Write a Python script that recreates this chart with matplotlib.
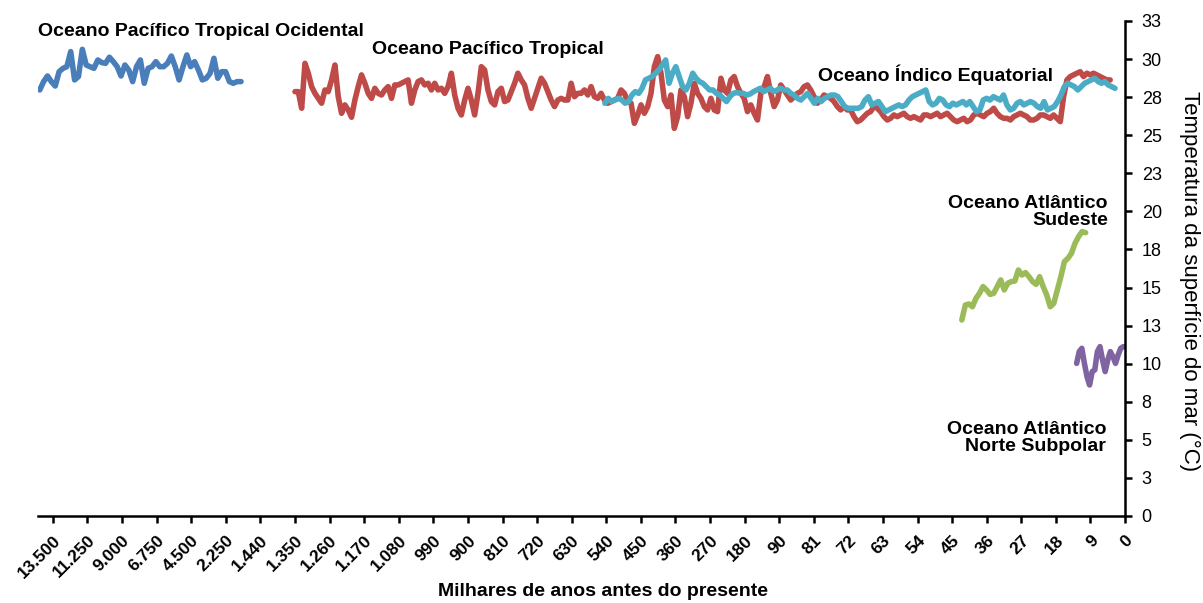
import numpy as np
import matplotlib
matplotlib.use("Agg")
import matplotlib.pyplot as plt

plt.rcParams["font.family"] = ["Liberation Sans", "DejaVu Sans"]

# Category axis: one tick per labelled age (thousands of years before present)
age_labels = ["13.500", "11.250", "9.000", "6.750", "4.500", "2.250",
              "1.440", "1.350", "1.260", "1.170", "1.080", "990", "900",
              "810", "720", "630", "540", "450", "360", "270", "180", "90",
              "81", "72", "63", "54", "45", "36", "27", "18", "9", "0"]

# Sea-surface temperature records (°C), evenly sampled along each record's span
pacific_west = [27.97, 28.52, 28.89, 28.52, 28.23, 29.17, 29.39, 29.50, 30.49, 28.63,
                28.85, 30.64, 29.61, 29.50, 29.39, 29.94, 29.77, 29.72, 30.12, 29.83,
                29.50, 28.89, 29.61, 29.28, 28.52, 29.50, 29.94, 28.41, 29.39, 29.50,
                29.83, 29.50, 29.50, 29.72, 30.20, 29.50, 28.63, 29.50, 30.27, 29.50,
                29.83, 29.28, 28.63, 28.74, 29.06, 30.05, 28.74, 29.17, 29.17, 28.52,
                28.41, 28.52, 28.52]

pacific_trop = [27.86, 27.86, 26.77, 29.72, 29.07, 28.19, 27.75, 27.42, 27.10, 27.97,
                27.86, 28.63, 29.61, 27.53, 26.44, 26.99, 26.66, 26.18, 27.31, 28.19,
                28.96, 28.41, 27.75, 27.42, 28.08, 27.75, 27.64, 27.97, 28.19, 27.42,
                28.30, 28.30, 28.41, 28.52, 28.63, 27.10, 27.97, 28.52, 28.63, 28.30,
                28.41, 27.97, 28.41, 27.97, 28.08, 27.75, 28.19, 29.07, 27.64, 26.77,
                26.33, 27.31, 28.08, 27.31, 26.33, 27.75, 29.50, 29.28, 27.97, 27.21,
                26.99, 27.86, 28.08, 27.21, 27.31, 27.86, 28.41, 29.07, 28.63, 28.30,
                27.42, 26.77, 27.42, 28.08, 28.74, 28.41, 27.86, 27.31, 26.88, 27.31,
                27.42, 27.31, 27.31, 28.41, 27.53, 27.75,
                27.75, 27.97, 27.64, 28.19, 27.53, 27.42, 27.75, 27.31, 27.10, 27.21,
                27.31, 27.42, 27.97, 27.75, 27.21, 27.10, 25.78, 26.33, 26.99, 26.44,
                26.88, 27.75, 29.50, 30.16, 29.07, 27.31, 26.88, 27.64, 25.45, 26.22,
                27.97, 27.53, 26.22, 27.10, 28.41, 27.75, 27.42, 26.88, 26.66, 27.42,
                26.66, 26.55, 28.74, 27.97, 27.75, 28.63, 28.85, 28.19, 27.75, 27.42,
                26.55, 26.99, 26.44, 26.00, 27.75, 28.19, 28.85, 27.75, 26.88, 27.31,
                28.30, 27.97, 27.64, 27.31, 27.53, 27.75, 27.86, 28.19, 28.30, 27.97,
                27.53, 27.10, 27.31, 27.64, 27.53, 27.42, 27.21, 26.88, 26.66, 26.88,
                26.66, 26.66, 26.22, 25.89, 26.00, 26.22, 26.44, 26.55, 26.88, 26.77,
                26.55, 26.22, 26.00, 26.11, 26.33, 26.22, 26.33, 26.44, 26.22, 26.11,
                26.22, 26.11, 26.00, 26.33, 26.33, 26.22, 26.33, 26.44, 26.22, 26.33,
                26.44, 26.22, 26.00, 25.89, 26.00, 26.11, 25.89, 26.00, 26.33, 26.44,
                26.33, 26.22, 26.44, 26.55, 26.77, 26.44, 26.22, 26.11, 26.11, 26.00,
                26.22, 26.33, 26.44, 26.33, 26.22, 26.00, 26.00, 26.11, 26.33, 26.33,
                26.22, 26.11, 26.33, 26.11, 25.89, 27.53, 28.63, 28.85, 28.96, 29.07,
                29.17, 28.85, 29.07, 28.96, 29.07, 28.96, 28.85, 28.74, 28.63, 28.63]

indian_eq = [27.10, 27.42, 27.21, 27.31, 27.42, 27.31, 27.10, 27.21, 27.64, 27.86,
             27.75, 28.08, 28.63, 28.74, 28.85, 29.07, 29.28, 29.61, 29.94, 28.41,
             29.07, 29.50, 28.85, 28.19, 27.97, 28.41, 29.07, 28.74, 28.52, 28.41,
             28.19, 27.97, 27.97, 27.75, 27.64, 27.42, 27.21, 27.53, 27.75, 27.80,
             27.75, 27.75, 27.64, 27.71, 27.86, 27.97, 28.08, 27.86, 27.97, 28.08,
             27.86, 27.97, 28.08, 27.97, 27.97, 27.75, 27.64, 27.42, 27.31, 27.53,
             27.75, 27.42, 27.10, 27.42, 27.21, 27.42, 27.53, 27.64, 27.64, 27.53,
             27.21, 26.88, 26.77, 26.77, 26.77, 26.77, 26.88, 27.31, 27.53, 26.99,
             27.10, 27.21, 26.88, 26.55, 26.66, 26.77, 26.88, 26.99, 26.88, 26.99,
             27.31, 27.53, 27.64, 27.75, 27.86, 27.97, 27.21, 26.99, 27.10, 27.42,
             27.31, 26.99, 26.88, 27.10, 26.99, 27.10, 27.21, 26.99, 27.21, 26.88,
             26.55, 26.66, 27.31, 27.42, 27.31, 27.53, 27.42, 27.31, 27.64, 26.99,
             26.66, 26.77, 27.10, 27.21, 26.99, 27.10, 27.21, 27.10, 26.88, 26.77,
             27.21, 26.66, 26.77, 26.88, 27.21, 27.64, 28.19, 28.41, 28.30, 28.19,
             27.97, 28.19, 28.41, 28.52, 28.63, 28.74, 28.52, 28.41, 28.52,
             28.30, 28.19, 28.08]

atlantic_se = [12.87, 13.85, 13.92, 13.74, 14.29, 14.62, 15.06, 14.84, 14.55, 14.62,
               15.06, 15.50, 14.84, 15.28, 15.39, 15.43, 16.15, 15.82, 15.98, 15.71,
               15.39, 15.21, 15.71, 15.06, 14.51, 13.74, 13.96, 14.84, 15.71, 16.70,
               16.92, 17.25, 17.90, 18.34, 18.67, 18.60]

atlantic_n = [10.02, 10.79, 11.01, 10.02, 9.15, 8.60, 9.48, 9.59, 10.79, 11.12,
              10.24, 9.48, 10.24, 10.79, 10.46, 10.02, 10.57, 11.01, 11.12]

# First and last position of each record on the category axis (tick index units)
spans = {
    "pacific_west": (-0.38, 5.44),
    "pacific_trop": (7.0, 30.57),
    "indian_eq": (15.96, 30.71),
    "atlantic_se": (26.28, 29.86),
    "atlantic_n": (29.60, 30.95),
}

colors = {
    "pacific_west": "#4A7EBB",
    "pacific_trop": "#BE4B48",
    "indian_eq": "#4BACC6",
    "atlantic_se": "#9BBB59",
    "atlantic_n": "#8064A2",
}

series = [("pacific_west", pacific_west), ("pacific_trop", pacific_trop),
          ("indian_eq", indian_eq), ("atlantic_se", atlantic_se),
          ("atlantic_n", atlantic_n)]

fig = plt.figure(figsize=(12.03, 6.03), dpi=100)
ax = fig.add_axes([0.0316, 0.1443, 0.9036, 0.8209])

for key, vals in series:
    a, b = spans[key]
    x = np.linspace(a, b, len(vals))
    ax.plot(x, vals, color=colors[key], lw=4.0,
            solid_joinstyle="round", solid_capstyle="round")

ax.set_xlim(-0.43, len(age_labels) - 1)
ax.set_ylim(0, 32.5)

# x axis
ax.set_xticks(np.arange(len(age_labels)))
ax.set_xticklabels(age_labels, rotation=45, ha="right", va="top",
                   rotation_mode="anchor", fontsize=12.5, fontweight="bold")
fig.text(603 / 1203, 1 - 591 / 603, "Milhares de anos antes do presente",
         ha="center", va="center", fontsize=14, fontweight="bold")

# y axis on the right, labels rounded to whole degrees
yt = np.arange(0, 33, 2.5)
ax.yaxis.tick_right()
ax.set_yticks(yt)
ax.set_yticklabels([str(int(np.floor(v + 0.5))) for v in yt], fontsize=13)
fig.text(1190 / 1203, 1 - 281 / 603, "Temperatura da superfície do mar (°C)",
         rotation=-90, ha="center", va="center", fontsize=16)

for s in ("left", "top"):
    ax.spines[s].set_visible(False)
for s in ("bottom", "right"):
    ax.spines[s].set_linewidth(1.8)
    ax.spines[s].set_color("black")
ax.tick_params(axis="both", direction="out", length=5, width=1.8, color="black")
ax.tick_params(axis="x", pad=7)
ax.tick_params(axis="y", pad=7)

# record names
txt = dict(fontsize=14, fontweight="bold", color="black")
ax.text(-0.43, 31.8, "Oceano Pacífico Tropical Ocidental", ha="left", va="center", **txt)
ax.text(9.22, 30.6, "Oceano Pacífico Tropical", ha="left", va="center", **txt)
ax.text(22.13, 28.95, "Oceano Índico Equatorial", ha="left", va="center", **txt)
ax.text(30.5, 19.95, "Oceano Atlântico\nSudeste", ha="right", va="center",
        linespacing=1.0, **txt)
ax.text(30.45, 5.1, "Oceano Atlântico\nNorte Subpolar", ha="right", va="center",
        linespacing=1.0, **txt)

fig.savefig("out.png", dpi=100)
